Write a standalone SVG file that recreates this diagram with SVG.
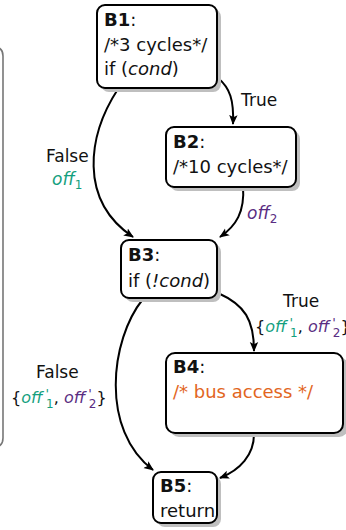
<svg xmlns="http://www.w3.org/2000/svg" width="346" height="530" viewBox="0 0 346 530">
<defs>
<marker id="arr" viewBox="0 0 10 10" refX="9" refY="5" markerWidth="10" markerHeight="10" markerUnits="userSpaceOnUse" orient="auto">
<path d="M0,0.8 L10,5 L0,9.2 L2.2,5 z" fill="#000"/>
</marker>
</defs>
<style>
text{font-family:"DejaVu Sans","Liberation Sans",sans-serif;font-size:18px;fill:#111}
.l{font-size:17px}
.lb{font-size:16px}
.b{font-weight:bold}
.i{font-style:italic}
.g{fill:#14a07e}
.p{fill:#5a2d82}
.o{fill:#e2661e}
.box{fill:#fff;stroke:#000;stroke-width:2}
.sh{fill:#bfbfbf}
.e{fill:none;stroke:#000;stroke-width:2;marker-end:url(#arr)}
.s{font-size:12px;font-style:normal}
.pr{font-size:13px}
</style>
<path d="M-6,47 Q3,47 3,56 V438 Q3,447 -6,447" fill="none" stroke="#777" stroke-width="1.6"/>
<g id="connectors">
<path class="e" d="M218,78 C230,88 234,100 233,124"/>
<path class="e" d="M118,89 C88,135 78,200 133,237"/>
<path class="e" d="M243,186 C245,212 236,226 220,237"/>
<path class="e" d="M218,293 C245,305 254,320 254,351"/>
<path class="e" d="M143,299 C110,340 100,430 153,470"/>
<path class="e" d="M254,434 C254,455 240,470 220,478"/>
<text class="l" x="241" y="106">True</text>
<text class="l" x="46" y="162">False</text>
<text class="l i g" x="52" y="185">off<tspan class="s" dy="4">1</tspan></text>
<text class="l i p" x="247" y="219">off<tspan class="s" dy="4">2</tspan></text>
<text class="l" x="283" y="307">True</text>
<text class="lb" x="255" y="332">{<tspan class="i g">off<tspan class="pr" dx="3" dy="-5">'</tspan><tspan class="s" dx="-3" dy="10">1</tspan></tspan><tspan dy="-5">, </tspan><tspan class="i p">off<tspan class="pr" dx="3" dy="-5">'</tspan><tspan class="s" dx="-3" dy="10">2</tspan></tspan><tspan dy="-5">}</tspan></text>
<text class="l" x="36" y="378">False</text>
<text class="lb" x="11" y="403">{<tspan class="i g">off<tspan class="pr" dx="3" dy="-5">'</tspan><tspan class="s" dx="-3" dy="10">1</tspan></tspan><tspan dy="-5">, </tspan><tspan class="i p">off<tspan class="pr" dx="3" dy="-5">'</tspan><tspan class="s" dx="-3" dy="10">2</tspan></tspan><tspan dy="-5">}</tspan></text>
</g>
<g id="B1">
<rect class="sh" x="101" y="9" width="120" height="83" rx="8"/>
<rect class="box" x="97" y="5" width="120" height="83" rx="8"/>
<text x="104" y="26"><tspan class="b">B1</tspan>:</text>
<text x="104" y="51">/*3 cycles*/</text>
<text x="104" y="75">if (<tspan class="i">cond</tspan>)</text>
</g>
<g id="B2">
<rect class="sh" x="170" y="131" width="130" height="60" rx="8"/>
<rect class="box" x="166" y="127" width="130" height="60" rx="8"/>
<text x="173" y="148"><tspan class="b">B2</tspan>:</text>
<text x="173" y="173">/*10 cycles*/</text>
</g>
<g id="B3">
<rect class="sh" x="125" y="244" width="96" height="58" rx="8"/>
<rect class="box" x="121" y="240" width="96" height="58" rx="8"/>
<text x="128" y="261"><tspan class="b">B3</tspan>:</text>
<text x="128" y="287">if (<tspan class="i">!cond</tspan>)</text>
</g>
<g id="B4">
<rect class="sh" x="170" y="357" width="178" height="80" rx="9"/>
<rect class="box" x="166" y="353" width="177" height="80" rx="9"/>
<text x="173" y="373"><tspan class="b">B4</tspan>:</text>
<text x="173" y="398" class="o">/* bus access */</text>
</g>
<g id="B5">
<rect class="sh" x="157" y="476" width="64" height="51" rx="8"/>
<rect class="box" x="153" y="472" width="64" height="51" rx="8"/>
<text x="160" y="492"><tspan class="b">B5</tspan>:</text>
<text x="160" y="517">return</text>
</g>
</svg>
